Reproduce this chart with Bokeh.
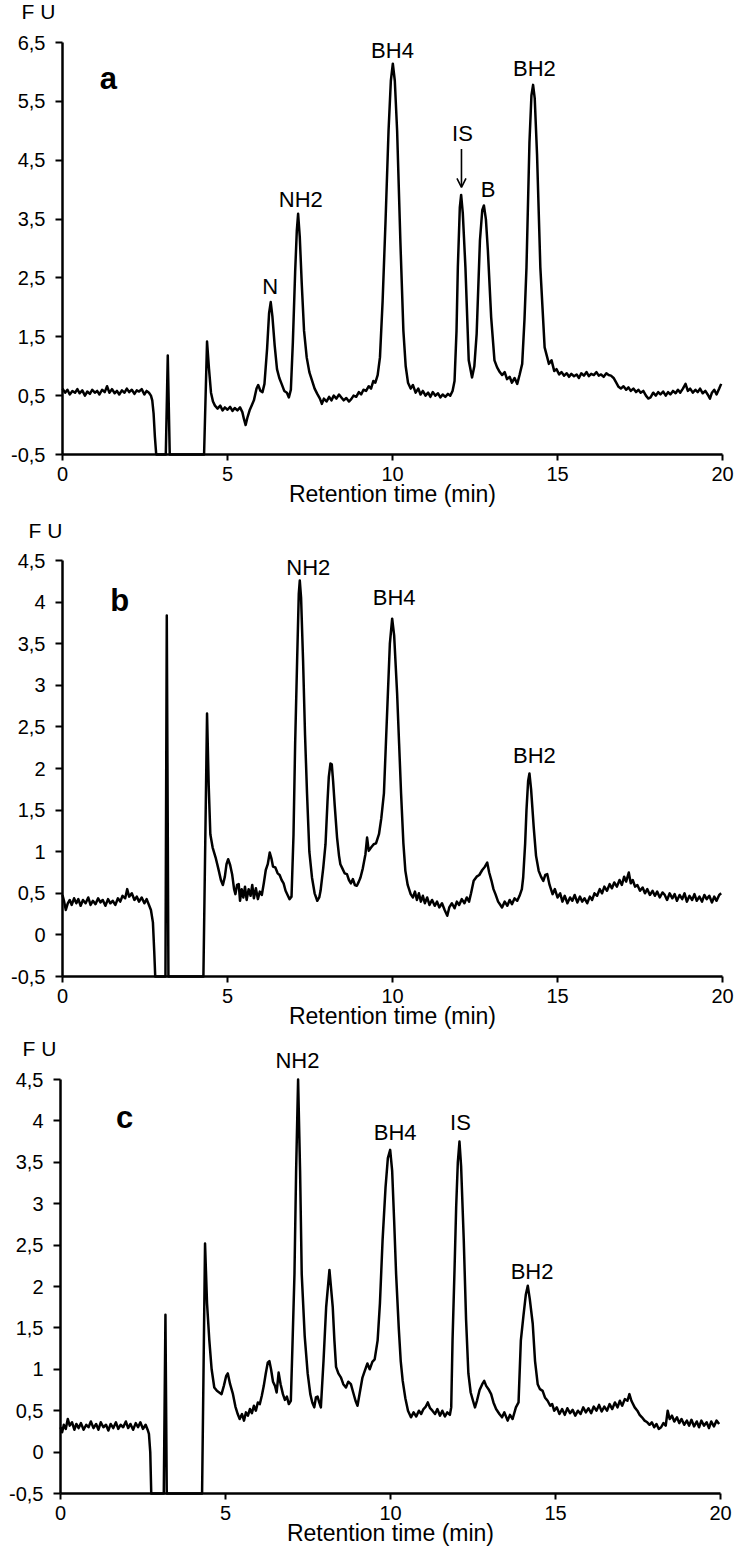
from bokeh.plotting import figure
from bokeh.models import Range1d, FixedTicker, Label, Arrow, OpenHead
from bokeh.layouts import column
from bokeh.embed import file_html
from bokeh.resources import INLINE

FONT = "Liberation Sans"

# ---------------- data ----------------
x_ticks = [0, 5, 10, 15, 20]
x_title = "Retention time (min)"
y_unit = "F U"

a_yticks = [-0.5, 0.5, 1.5, 2.5, 3.5, 4.5, 5.5, 6.5]
a_ylabels = ["-0,5", "0,5", "1,5", "2,5", "3,5", "4,5", "5,5", "6,5"]
bc_yticks = [-0.5, 0, 0.5, 1, 1.5, 2, 2.5, 3, 3.5, 4, 4.5]
bc_ylabels = ["-0,5", "0", "0,5", "1", "1,5", "2", "2,5", "3", "3,5", "4", "4,5"]

a_time = [0.00, 0.08, 0.15, 0.22, 0.30, 0.38, 0.45, 0.52, 0.60, 0.68, 0.75, 0.83, 0.90, 0.98,
          1.05, 1.12, 1.20, 1.28, 1.35, 1.42, 1.50, 1.58, 1.65, 1.72, 1.80, 1.88, 1.95, 2.02,
          2.10, 2.18, 2.25, 2.32, 2.40, 2.48, 2.55, 2.62, 2.68, 2.72, 2.76, 2.80, 2.84,
          3.13, 3.19, 3.25, 4.29, 4.38, 4.44, 4.50, 4.56, 4.62, 4.70, 4.78, 4.85, 4.92,
          5.00, 5.08, 5.15, 5.22, 5.30, 5.38, 5.45, 5.50, 5.55, 5.60, 5.67, 5.73, 5.80,
          5.88, 5.93, 6.00, 6.06, 6.12, 6.20, 6.26, 6.31, 6.36, 6.43, 6.50, 6.57, 6.64,
          6.72, 6.80, 6.86, 6.92, 6.98, 7.05, 7.10, 7.14, 7.19, 7.25, 7.32, 7.40, 7.48,
          7.56, 7.64, 7.72, 7.80, 7.86, 7.92, 8.00, 8.08, 8.15, 8.22, 8.30, 8.38, 8.45,
          8.52, 8.60, 8.68, 8.75, 8.82, 8.90, 8.98, 9.05, 9.12, 9.20, 9.28, 9.35, 9.42,
          9.48, 9.55, 9.62, 9.70, 9.79, 9.88, 9.95, 10.01, 10.07, 10.14, 10.24, 10.33,
          10.40, 10.47, 10.55, 10.62, 10.70, 10.78, 10.85, 10.92, 11.00, 11.08, 11.15,
          11.22, 11.30, 11.38, 11.45, 11.52, 11.60, 11.68, 11.75, 11.82, 11.88, 11.94,
          11.98, 12.04, 12.08, 12.13, 12.21, 12.31, 12.41, 12.48, 12.55, 12.65, 12.72,
          12.77, 12.83, 12.89, 12.99, 13.09, 13.17, 13.25, 13.32, 13.40, 13.47, 13.55,
          13.62, 13.70, 13.78, 13.85, 13.93, 14.00, 14.06, 14.15, 14.21, 14.26, 14.31,
          14.38, 14.48, 14.61, 14.74, 14.82, 14.90, 14.97, 15.05, 15.12, 15.20, 15.28,
          15.35, 15.42, 15.50, 15.58, 15.65, 15.72, 15.80, 15.88, 15.95, 16.02, 16.10,
          16.18, 16.25, 16.32, 16.40, 16.48, 16.55, 16.62, 16.70, 16.78, 16.85, 16.92,
          17.00, 17.08, 17.15, 17.22, 17.30, 17.38, 17.45, 17.52, 17.60, 17.68, 17.75,
          17.82, 17.90, 17.98, 18.05, 18.12, 18.20, 18.28, 18.35, 18.42, 18.50, 18.58,
          18.65, 18.72, 18.80, 18.88, 18.95, 19.02, 19.10, 19.18, 19.25, 19.32, 19.40,
          19.48, 19.55, 19.62, 19.68, 19.75, 19.82, 19.90, 19.96]
a_fu = [0.62, 0.55, 0.60, 0.52, 0.58, 0.55, 0.61, 0.54, 0.59, 0.50, 0.57, 0.53, 0.60, 0.55,
        0.58, 0.52, 0.60, 0.56, 0.66, 0.55, 0.61, 0.54, 0.58, 0.52, 0.59, 0.55, 0.62, 0.56,
        0.60, 0.53, 0.59, 0.57, 0.61, 0.52, 0.58, 0.55, 0.50, 0.42, 0.20, -0.20, -0.50,
        -0.50, 1.18, -0.50, -0.50, 1.42, 0.95, 0.55, 0.40, 0.33, 0.28, 0.33, 0.25, 0.30,
        0.26, 0.31, 0.24, 0.29, 0.25, 0.30, 0.22, 0.10, 0.00, 0.12, 0.25, 0.33, 0.42,
        0.62, 0.68, 0.58, 0.56, 0.70, 1.30, 1.90, 2.09, 1.85, 1.35, 0.95, 0.80, 0.70,
        0.58, 0.55, 0.47, 0.60, 1.40, 2.60, 3.30, 3.59, 3.20, 2.40, 1.60, 1.15, 0.90,
        0.76, 0.62, 0.53, 0.45, 0.36, 0.45, 0.40, 0.48, 0.42, 0.50, 0.45, 0.52, 0.47,
        0.42, 0.46, 0.40, 0.44, 0.50, 0.48, 0.56, 0.52, 0.60, 0.58, 0.66, 0.62, 0.75,
        0.72, 0.85, 1.15, 2.10, 3.48, 5.00, 5.85, 6.14, 5.85, 5.00, 3.10, 1.60,
        1.00, 0.72, 0.62, 0.68, 0.55, 0.62, 0.52, 0.58, 0.50, 0.55, 0.48,
        0.56, 0.50, 0.54, 0.47, 0.52, 0.48, 0.53, 0.50, 0.58, 0.75, 1.60,
        2.68, 3.70, 3.91, 3.60, 2.68, 1.10, 0.81, 1.00, 1.55, 3.14, 3.65,
        3.73, 3.50, 2.97, 1.83, 1.10, 0.98, 0.90, 0.85, 0.90, 0.78, 0.82,
        0.72, 0.80, 0.70, 0.85, 1.04, 1.80, 2.68, 4.80, 5.60, 5.78, 5.55,
        4.60, 2.68, 1.32, 1.04, 1.10, 0.92, 0.95, 0.86, 0.90, 0.84, 0.88,
        0.82, 0.87, 0.83, 0.86, 0.80, 0.88, 0.84, 0.90, 0.83, 0.87, 0.85,
        0.90, 0.84, 0.86, 0.82, 0.88, 0.85, 0.84, 0.80, 0.72, 0.65, 0.62,
        0.66, 0.60, 0.64, 0.58, 0.62, 0.56, 0.60, 0.55, 0.58, 0.50, 0.45,
        0.47, 0.55, 0.50, 0.56, 0.52, 0.57, 0.50, 0.56, 0.52, 0.58, 0.54,
        0.60, 0.55, 0.62, 0.70, 0.58, 0.62, 0.55, 0.60, 0.56, 0.62, 0.54,
        0.58, 0.52, 0.45, 0.55, 0.60, 0.52, 0.62, 0.70]

b_time = [0.00, 0.05, 0.10, 0.16, 0.22, 0.28, 0.35, 0.42, 0.48, 0.55, 0.62, 0.70, 0.78, 0.85,
          0.92, 1.00, 1.08, 1.15, 1.22, 1.30, 1.38, 1.45, 1.52, 1.60, 1.68, 1.75, 1.82, 1.90,
          1.96, 2.02, 2.10, 2.18, 2.25, 2.32, 2.40, 2.48, 2.55, 2.62, 2.68, 2.74, 2.78, 2.81,
          3.12, 3.16, 3.21, 4.27, 4.38, 4.43, 4.48, 4.55, 4.64, 4.72, 4.80, 4.86, 4.92,
          4.97, 5.02, 5.08, 5.14, 5.20, 5.24, 5.29, 5.34, 5.38, 5.43, 5.48, 5.53, 5.58,
          5.64, 5.70, 5.75, 5.80, 5.86, 5.92, 5.98, 6.04, 6.10, 6.16, 6.22, 6.28, 6.33,
          6.38, 6.45, 6.52, 6.58, 6.64, 6.70, 6.76, 6.82, 6.88, 6.94, 7.00, 7.05, 7.11,
          7.16, 7.19, 7.23, 7.29, 7.35, 7.41, 7.48, 7.56, 7.64, 7.72, 7.78, 7.82, 7.90,
          7.97, 8.03, 8.07, 8.12, 8.16, 8.20, 8.25, 8.32, 8.38, 8.42, 8.48, 8.55, 8.62,
          8.68, 8.74, 8.80, 8.86, 8.92, 8.98, 9.03, 9.10, 9.18, 9.23, 9.28, 9.35, 9.43,
          9.50, 9.59, 9.66, 9.74, 9.80, 9.86, 9.92, 9.99, 10.05, 10.14, 10.20, 10.26,
          10.33, 10.39, 10.46, 10.55, 10.62, 10.68, 10.74, 10.80, 10.86, 10.92, 10.98,
          11.05, 11.12, 11.20, 11.28, 11.35, 11.42, 11.50, 11.58, 11.66, 11.72, 11.80,
          11.88, 11.95, 12.02, 12.10, 12.18, 12.25, 12.32, 12.38, 12.46, 12.55, 12.63,
          12.72, 12.80, 12.87, 12.93, 13.00, 13.06, 13.12, 13.20, 13.27, 13.32, 13.40,
          13.48, 13.55, 13.62, 13.70, 13.78, 13.85, 13.92, 13.96, 14.02, 14.06, 14.11,
          14.15, 14.20, 14.28, 14.35, 14.43, 14.50, 14.57, 14.63, 14.69, 14.76, 14.85,
          14.92, 15.00, 15.08, 15.15, 15.22, 15.30, 15.38, 15.45, 15.52, 15.60, 15.68,
          15.75, 15.82, 15.90, 15.98, 16.05, 16.12, 16.20, 16.28, 16.35, 16.42, 16.50,
          16.58, 16.65, 16.72, 16.80, 16.88, 16.95, 17.02, 17.08, 17.16, 17.22, 17.28,
          17.35, 17.42, 17.50, 17.58, 17.65, 17.72, 17.80, 17.88, 17.95, 18.02, 18.10,
          18.18, 18.25, 18.32, 18.40, 18.48, 18.55, 18.62, 18.70, 18.78, 18.85, 18.92,
          19.00, 19.08, 19.15, 19.22, 19.30, 19.38, 19.45, 19.52, 19.60, 19.68, 19.75,
          19.82, 19.90, 19.96]
b_fu = [0.48, 0.40, 0.30, 0.38, 0.42, 0.36, 0.44, 0.38, 0.43, 0.35, 0.42, 0.38, 0.45, 0.36,
        0.41, 0.37, 0.44, 0.39, 0.42, 0.35, 0.43, 0.38, 0.41, 0.36, 0.44, 0.40, 0.47, 0.44,
        0.55, 0.46, 0.50, 0.42, 0.46, 0.40, 0.45, 0.38, 0.43, 0.36, 0.30, 0.15, -0.20, -0.50,
        -0.50, 3.84, -0.50, -0.50, 2.66, 1.80, 1.21, 1.05, 0.93, 0.80, 0.66, 0.60, 0.70,
        0.85, 0.91, 0.84, 0.73, 0.55, 0.49, 0.60, 0.61, 0.41, 0.55, 0.45, 0.58, 0.42,
        0.55, 0.47, 0.60, 0.44, 0.56, 0.43, 0.52, 0.48, 0.62, 0.78, 0.85, 0.99, 0.92,
        0.82, 0.81, 0.74, 0.72, 0.66, 0.62, 0.53, 0.48, 0.43, 0.46, 1.20, 2.30, 3.30,
        4.10, 4.26, 4.05, 3.30, 2.40, 1.70, 1.00, 0.69, 0.50, 0.41, 0.45, 0.53, 0.80,
        1.09, 1.60, 1.90, 2.06, 2.05, 1.85, 1.55, 1.17, 0.95, 0.85, 0.80, 0.74, 0.73,
        0.66, 0.62, 0.67, 0.60, 0.59, 0.64, 0.69, 0.80, 0.97, 1.17, 1.01, 1.05, 1.09,
        1.10, 1.21, 1.40, 1.70, 2.30, 2.90, 3.50, 3.80, 3.60, 2.90, 2.30, 1.70,
        1.10, 0.77, 0.60, 0.49, 0.45, 0.52, 0.42, 0.50, 0.40, 0.47, 0.38,
        0.45, 0.36, 0.42, 0.35, 0.40, 0.33, 0.38, 0.30, 0.23, 0.33, 0.38,
        0.32, 0.40, 0.36, 0.43, 0.38, 0.45, 0.40, 0.50, 0.65, 0.70, 0.72,
        0.78, 0.82, 0.87, 0.75, 0.65, 0.55, 0.49, 0.40, 0.36, 0.33, 0.40,
        0.35, 0.42, 0.37, 0.44, 0.41, 0.47, 0.55, 0.69, 1.10, 1.50, 1.85,
        1.94, 1.75, 1.29, 0.95, 0.77, 0.70, 0.65, 0.72, 0.73, 0.60, 0.49,
        0.55, 0.45, 0.50, 0.40, 0.47, 0.38, 0.45, 0.41, 0.48, 0.39, 0.46,
        0.40, 0.44, 0.38, 0.46, 0.42, 0.50, 0.47, 0.55, 0.50, 0.58, 0.53,
        0.61, 0.56, 0.63, 0.58, 0.66, 0.60, 0.70, 0.64, 0.75, 0.62, 0.66,
        0.58, 0.60, 0.53, 0.57, 0.50, 0.55, 0.48, 0.53, 0.47, 0.52, 0.45,
        0.51, 0.48, 0.42, 0.50, 0.44, 0.49, 0.41, 0.48, 0.43, 0.50, 0.40,
        0.47, 0.42, 0.49, 0.41, 0.46, 0.40, 0.48, 0.43, 0.47, 0.39, 0.46,
        0.41, 0.48, 0.50]

c_time = [0.00, 0.05, 0.10, 0.16, 0.22, 0.28, 0.35, 0.42, 0.48, 0.55, 0.62, 0.70, 0.78, 0.85,
          0.92, 1.00, 1.08, 1.15, 1.22, 1.30, 1.38, 1.45, 1.52, 1.60, 1.68, 1.75, 1.82, 1.90,
          1.98, 2.05, 2.12, 2.20, 2.28, 2.35, 2.42, 2.50, 2.58, 2.64, 2.68, 2.72, 2.75,
          3.13, 3.18, 3.22, 4.29, 4.38, 4.44, 4.51, 4.58, 4.66, 4.74, 4.81, 4.88, 4.95,
          5.02, 5.07, 5.14, 5.22, 5.30, 5.37, 5.43, 5.50, 5.56, 5.62, 5.68, 5.74, 5.80,
          5.86, 5.92, 5.98, 6.04, 6.10, 6.16, 6.22, 6.28, 6.33, 6.38, 6.44, 6.50, 6.55,
          6.61, 6.67, 6.74, 6.80, 6.86, 6.92, 6.98, 7.03, 7.09, 7.14, 7.20, 7.26, 7.31,
          7.40, 7.49, 7.57, 7.63, 7.69, 7.74, 7.79, 7.84, 7.89, 7.97, 8.05, 8.15, 8.25,
          8.30, 8.35, 8.42, 8.50, 8.57, 8.65, 8.72, 8.80, 8.87, 8.94, 9.00, 9.07, 9.15,
          9.22, 9.30, 9.37, 9.45, 9.52, 9.61, 9.68, 9.76, 9.85, 9.92, 9.99, 10.05, 10.11,
          10.17, 10.25, 10.31, 10.37, 10.45, 10.53, 10.62, 10.70, 10.78, 10.86, 10.93,
          11.00, 11.07, 11.13, 11.20, 11.27, 11.35, 11.42, 11.50, 11.57, 11.65, 11.72,
          11.80, 11.84, 11.88, 11.94, 11.99, 12.04, 12.09, 12.14, 12.22, 12.29, 12.36,
          12.43, 12.50, 12.56, 12.62, 12.70, 12.78, 12.84, 12.90, 12.97, 13.05, 13.12,
          13.20, 13.30, 13.38, 13.45, 13.55, 13.62, 13.70, 13.80, 13.88, 13.95, 14.03,
          14.10, 14.16, 14.22, 14.31, 14.38, 14.46, 14.53, 14.61, 14.68, 14.76, 14.84,
          14.90, 14.96, 15.04, 15.12, 15.20, 15.28, 15.36, 15.44, 15.52, 15.60, 15.68,
          15.76, 15.84, 15.92, 16.00, 16.08, 16.16, 16.24, 16.32, 16.40, 16.48, 16.56,
          16.64, 16.72, 16.80, 16.88, 16.95, 17.02, 17.10, 17.18, 17.24, 17.30, 17.40,
          17.48, 17.55, 17.62, 17.70, 17.78, 17.85, 17.92, 17.99, 18.06, 18.13, 18.20,
          18.27, 18.34, 18.40, 18.46, 18.53, 18.60, 18.68, 18.75, 18.82, 18.90, 18.98,
          19.05, 19.12, 19.20, 19.28, 19.35, 19.42, 19.50, 19.58, 19.65, 19.72, 19.80,
          19.88, 19.96]
c_fu = [0.30, 0.24, 0.33, 0.28, 0.40, 0.32, 0.36, 0.27, 0.34, 0.29, 0.35, 0.27, 0.33, 0.30,
        0.37, 0.29, 0.34, 0.27, 0.36, 0.30, 0.33, 0.26, 0.34, 0.29, 0.36, 0.28, 0.33, 0.30,
        0.37, 0.29, 0.34, 0.27, 0.35, 0.30, 0.36, 0.28, 0.33, 0.27, 0.22, 0.00, -0.50,
        -0.50, 1.66, -0.50, -0.50, 2.52, 1.80, 1.35, 1.00, 0.78, 0.74, 0.72, 0.70, 0.80,
        0.92, 0.95, 0.82, 0.71, 0.55, 0.46, 0.40, 0.46, 0.38, 0.48, 0.44, 0.52, 0.47,
        0.56, 0.50, 0.60, 0.58, 0.68, 0.80, 0.95, 1.08, 1.10, 1.00, 0.85, 0.80, 0.72,
        0.96, 0.82, 0.70, 0.63, 0.67, 0.58, 0.62, 1.30, 2.15, 3.40, 4.50, 3.40, 2.15,
        1.40, 0.95, 0.70, 0.60, 0.54, 0.66, 0.67, 0.60, 0.54, 1.10, 1.75, 2.20, 1.75,
        1.35, 1.03, 0.95, 0.90, 0.82, 0.78, 0.85, 0.82, 0.72, 0.62, 0.56, 0.72, 0.90,
        0.98, 1.07, 1.00, 1.09, 1.12, 1.35, 1.80, 2.56, 3.20, 3.55, 3.65, 3.40, 2.80,
        2.15, 1.50, 1.10, 0.86, 0.65, 0.50, 0.42, 0.48, 0.43, 0.50, 0.46,
        0.52, 0.55, 0.60, 0.53, 0.50, 0.46, 0.52, 0.44, 0.50, 0.43, 0.48,
        0.45, 0.54, 1.35, 2.20, 2.96, 3.50, 3.75, 3.45, 2.56, 1.60, 0.95,
        0.72, 0.62, 0.54, 0.62, 0.75, 0.82, 0.86, 0.80, 0.76, 0.70, 0.60,
        0.52, 0.46, 0.42, 0.48, 0.38, 0.45, 0.40, 0.54, 0.60, 1.35, 1.65,
        1.90, 2.01, 1.85, 1.55, 1.10, 0.82, 0.76, 0.74, 0.66, 0.62, 0.56,
        0.58, 0.50, 0.54, 0.46, 0.52, 0.45, 0.53, 0.47, 0.51, 0.44, 0.50,
        0.46, 0.54, 0.48, 0.53, 0.47, 0.55, 0.50, 0.57, 0.49, 0.55, 0.50,
        0.58, 0.52, 0.60, 0.54, 0.62, 0.56, 0.64, 0.62, 0.70, 0.62, 0.54,
        0.50, 0.45, 0.42, 0.38, 0.36, 0.33, 0.36, 0.30, 0.34, 0.28, 0.30,
        0.35, 0.32, 0.50, 0.40, 0.44, 0.37, 0.42, 0.35, 0.40, 0.33, 0.38,
        0.32, 0.39, 0.31, 0.37, 0.30, 0.38, 0.32, 0.36, 0.29, 0.37, 0.31,
        0.38, 0.34]

# annotations: names, retention time, height of text centre
a_peak_names = ["N", "NH2", "BH4", "IS", "B", "BH2"]
a_peak_t = [6.29, 7.22, 10.0, 12.12, 12.9, 14.3]
a_peak_v = [2.36, 3.84, 6.36, 4.95, 4.00, 6.06]
a_arrow = (12.09, 4.69, 4.04)

b_peak_names = ["NH2", "BH4", "BH2"]
b_peak_t = [7.45, 10.05, 14.3]
b_peak_v = [4.42, 4.05, 2.16]

c_peak_names = ["NH2", "BH4", "IS", "BH2"]
c_peak_t = [7.18, 10.14, 12.12, 14.29]
c_peak_v = [4.73, 3.86, 3.98, 2.18]

panel_letters = ["a", "b", "c"]
letter_pos = [(1.13, 5.89), (1.45, 4.02), (1.68, 4.04)]
unit_pos = [(-1.24, 7.03), (-1.03, 4.86), (-1.15, 4.88)]

# ---------------- layout (pixels) ----------------
PAGE_W = 734
PX_PER_MIN = 33.0


def make_panel(times, fu, y_top, yticks, ylabels, height, x0_px, top_px, bottom_px,
               names, pt, pv, letter, lpos, upos):
    px_per_unit = (bottom_px - top_px) / (y_top + 0.5)
    y_start = -0.5 - (height - bottom_px) / px_per_unit
    y_end = -0.5 + bottom_px / px_per_unit
    x_start = -x0_px / PX_PER_MIN
    x_end = (PAGE_W - x0_px) / PX_PER_MIN
    p = figure(width=PAGE_W, height=height, output_backend="svg", toolbar_location=None,
               x_range=Range1d(x_start, x_end), y_range=Range1d(y_start, y_end),
               min_border=0, background_fill_color="white", border_fill_color="white")
    p.outline_line_color = None
    p.grid.visible = False
    p.line(times, fu, line_color="black", line_width=2.5, line_join="round")

    for ax in (p.xaxis[0], p.yaxis[0]):
        ax.axis_line_color = "black"
        ax.axis_line_width = 2.5
        ax.major_tick_line_color = "black"
        ax.major_tick_line_width = 2
        ax.minor_tick_line_color = None
        ax.major_tick_in = 0
        ax.major_label_text_font = FONT
        ax.major_label_text_font_size = "20px"
        ax.major_label_text_color = "black"

    xa = p.xaxis[0]
    xa.fixed_location = -0.5
    xa.bounds = (0, 20)
    xa.ticker = FixedTicker(ticks=x_ticks)
    xa.major_tick_out = 6
    xa.major_label_standoff = 6
    xa.axis_label = x_title
    xa.axis_label_text_font = FONT
    xa.axis_label_text_font_size = "23px"
    xa.axis_label_text_font_style = "normal"
    xa.axis_label_text_color = "black"
    xa.axis_label_standoff = -3

    ya = p.yaxis[0]
    ya.fixed_location = 0
    ya.bounds = (-0.5, y_top)
    ya.ticker = FixedTicker(ticks=yticks)
    ya.major_label_overrides = dict(zip(yticks, ylabels))
    ya.major_tick_out = 7
    ya.major_label_standoff = 10

    for n, t, v in zip(names, pt, pv):
        p.add_layout(Label(x=t, y=v, text=n, text_font=FONT, text_font_size="22px",
                           text_align="center", text_baseline="middle",
                           text_color="black"))
    p.add_layout(Label(x=lpos[0], y=lpos[1], text=letter, text_font=FONT,
                       text_font_size="31px", text_font_style="bold",
                       text_align="left", text_baseline="middle", text_color="black"))
    p.add_layout(Label(x=upos[0], y=upos[1], text=y_unit, text_font=FONT,
                       text_font_size="21px", text_align="left",
                       text_baseline="middle", text_color="black"))
    return p


# panel a: canvas 0..512, ticks 6,5 at 42 px and -0,5 at 454 px
pa = make_panel(a_time, a_fu, 6.5, a_yticks, a_ylabels, 512, 62, 42, 454,
                a_peak_names, a_peak_t, a_peak_v, panel_letters[0], letter_pos[0], unit_pos[0])
pa.add_layout(Arrow(end=OpenHead(size=9, line_width=1.6, line_color="black"),
                    x_start=a_arrow[0], y_start=a_arrow[1], x_end=a_arrow[0], y_end=a_arrow[2],
                    line_width=1.6, line_color="black"))

# panel b: canvas 512..1034, ticks 4,5 at 560 px and -0,5 at 976 px
pb = make_panel(b_time, b_fu, 4.5, bc_yticks, bc_ylabels, 522, 62, 560 - 512, 976 - 512,
                b_peak_names, b_peak_t, b_peak_v, panel_letters[1], letter_pos[1], unit_pos[1])

# panel c: canvas 1034..1550, ticks 4,5 at 1079 px and -0,5 at 1493 px
pc = make_panel(c_time, c_fu, 4.5, bc_yticks, bc_ylabels, 516, 60, 1079 - 1034, 1493 - 1034,
                c_peak_names, c_peak_t, c_peak_v, panel_letters[2], letter_pos[2], unit_pos[2])

layout = column(pa, pb, pc, spacing=0)
open("out.html", "w").write(file_html(layout, INLINE))
